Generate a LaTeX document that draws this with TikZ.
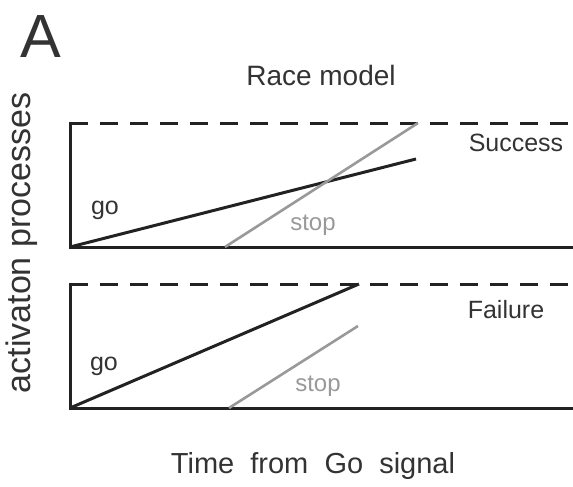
\documentclass[tikz,border=0pt]{standalone}
\usepackage{fontspec}
\setmainfont{Liberation Sans}
\definecolor{ink}{HTML}{222222}
\definecolor{txt}{HTML}{333333}
\definecolor{stopgray}{HTML}{999999}
\begin{document}
\begin{tikzpicture}[x=1pt,y=-1pt,
  axis/.style={draw=ink,line width=3pt,line cap=butt},
  thresh/.style={draw=ink,line width=3pt,dash pattern=on 18pt off 12pt},
  goline/.style={draw=ink,line width=3pt},
  stopline/.style={draw=stopgray,line width=2.6pt},
  lab/.style={text=txt,font=\fontsize{25}{27}\selectfont,inner sep=0pt},
  stoplab/.style={text=stopgray,font=\fontsize{24}{26}\selectfont,inner sep=0pt}]
\useasboundingbox (0,0) rectangle (573,487);
% labels
\node[text=txt,font=\fontsize{61}{61}\selectfont,inner sep=0pt] (A) at (41,37) {A};
\node[lab,font=\fontsize{28}{30}\selectfont] (title) at (321,75) {Race model};
\node[lab,font=\fontsize{29}{31}\selectfont] (xlab) at (313,466) {Time\ \ from\ \ Go\ \ signal};
\node[lab,font=\fontsize{34}{36}\selectfont,rotate=90] (ylab) at (22,243) {activaton processes};
% top panel
\coordinate (t0) at (70,247);
\coordinate (ttl) at (70,123);
\coordinate (ttr) at (573,123);
\coordinate (tbr) at (573,247);
\coordinate (tgo) at (416,159);
\coordinate (ts0) at (225,247);
\coordinate (ts1) at (418,123);
\draw[axis] (70,121.5) -- (t0) -- (tbr);
\draw[thresh] (ttl) -- (ttr);
\draw[goline] (t0) -- (tgo);
\draw[stopline] (ts0) -- (ts1);
\node[lab] (tgolab) at (105,210) {go};
\node[stoplab] (tstoplab) at (313,225) {stop};
\node[lab] (succ) at (516,143) {Success};
% bottom panel
\coordinate (b0) at (70,408);
\coordinate (btl) at (70,284);
\coordinate (btr) at (573,284);
\coordinate (bbr) at (573,408);
\coordinate (bgo) at (359,284);
\coordinate (bs0) at (229,408);
\coordinate (bs1) at (358,326);
\draw[axis] (70,282.5) -- (b0) -- (bbr);
\draw[thresh] (btl) -- (btr);
\draw[goline] (b0) -- (bgo);
\draw[stopline] (bs0) -- (bs1);
\node[lab] (bgolab) at (104,366) {go};
\node[stoplab] (bstoplab) at (318,386) {stop};
\node[lab] (fail) at (506,310) {Failure};
\end{tikzpicture}
\end{document}
